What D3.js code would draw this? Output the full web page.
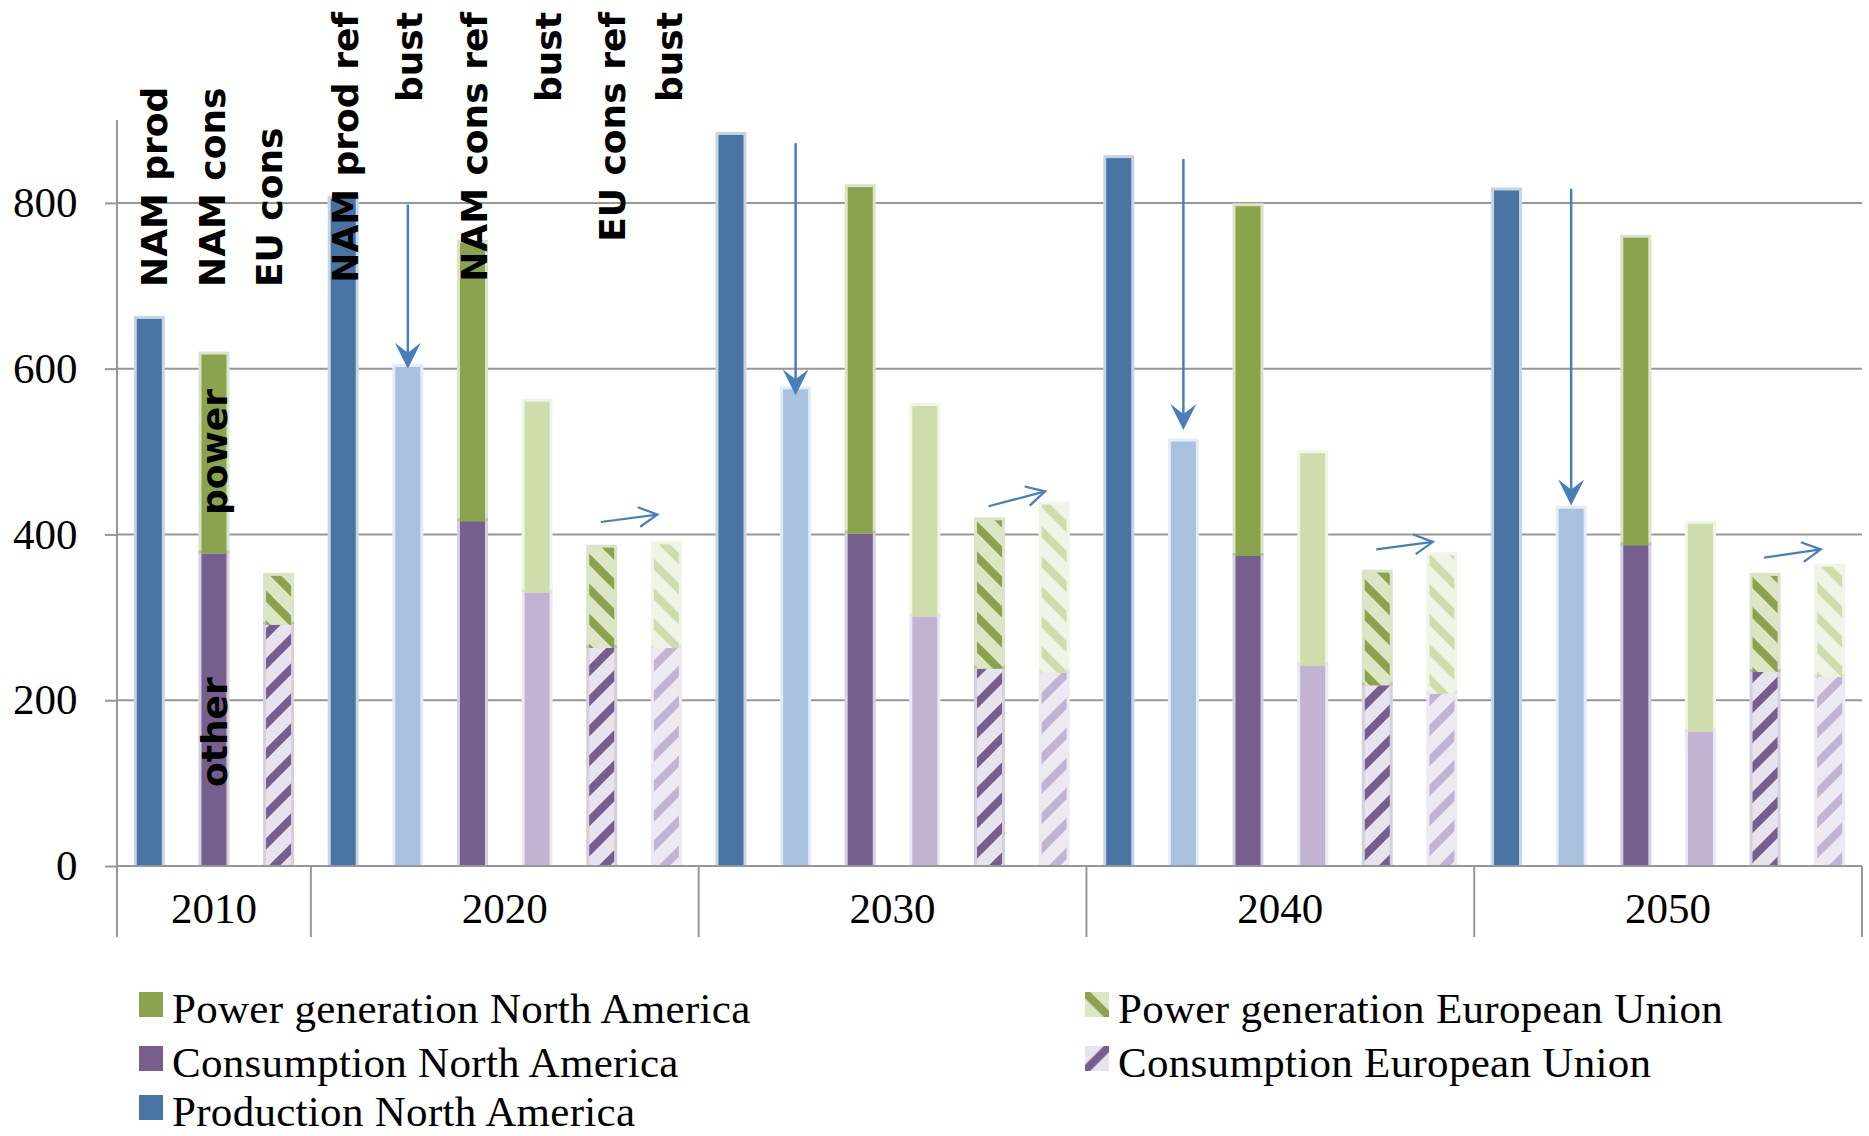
<!DOCTYPE html>
<html>
<head>
<meta charset="utf-8">
<script src="https://cdn.jsdelivr.net/npm/d3@7"></script>
<style>
  html, body { margin: 0; padding: 0; background: #ffffff; }
  svg { display: block; }
</style>
</head>
<body>
<svg id="chart" width="1869" height="1136"></svg>
<script>
// ---- data -------------------------------------------------------------
const years = ["2010", "2020", "2030", "2040", "2050"];
const subLabels2010 = ["NAM prod", "NAM cons", "EU cons"];
const subLabelsScenario = ["NAM prod ref", "bust", "NAM cons ref", "bust", "EU cons ref", "bust"];

// Production North America (2010, then reference / bust case per decade)
const productionBase = [660];
const productionRef  = [805, 882, 854, 815];
const productionBust = [602, 575, 512, 431];

// Consumption North America: other uses and power generation
const namOtherBase = [377];
const namPowerBase = [240];
const namOtherRef  = [416, 401, 374, 387];
const namPowerRef  = [336, 418, 422, 371];
const namOtherBust = [330, 301, 242, 162];
const namPowerBust = [230, 254, 256, 251];

// Consumption European Union: other uses and power generation
const euOtherBase = [291];
const euPowerBase = [59];
const euOtherRef  = [263, 238, 218, 234];
const euPowerRef  = [121, 179, 136, 116];
const euOtherBust = [263, 233, 208, 228];
const euPowerBust = [125, 203, 167, 133];

const yTicks = [0, 200, 400, 600, 800];

// Arrows: drop from reference to bust production, shift of EU consumption
const prodArrowFrom = [798, 872, 853, 817];
const prodArrowTo   = [600, 568, 526, 435];
const euArrowFrom   = [415, 434, 382, 372];
const euArrowTo     = [424, 452, 391, 382];

const legendLabels = [
  "Power generation North America",
  "Consumption North America",
  "Production North America",
  "Power generation European Union",
  "Consumption European Union"
];

// ---- layout -----------------------------------------------------------
const plotLeft = 117, plotRight = 1862, plotTop = 120, plotBottom = 866, catBottom = 937;
const barW = 25, halo = 3;
const gridColor = "#979797";
const arrowColor = "#4A7EBB";
const serif = "'Liberation Serif', 'Times New Roman', serif";
const boldSans = "'DejaVu Sans', Verdana, sans-serif";

const colors = {
  prod: "#4774A3", prodBust: "#A7C1DF",
  namOther: "#765F8E", namOtherBust: "#C2B3D3",
  namPower: "#8BA34C", namPowerBust: "#CFDDAC",
  euOther: "#765F8E", euOtherBust: "#C2B3D3",
  euPower: "#8BA34C", euPowerBust: "#CFDDAC"
};

const svg = d3.select("#chart");
const defs = svg.append("defs");

// diagonal hatch patterns
function hatch(id, bg, fg, dir, tx, ty) {
  const P = 30, w = 8;
  const p = defs.append("pattern")
    .attr("id", id)
    .attr("patternUnits", "userSpaceOnUse")
    .attr("width", P).attr("height", P);
  if (tx !== undefined) p.attr("patternTransform", `translate(${tx},${ty})`);
  p.append("rect").attr("width", P).attr("height", P).attr("fill", bg);
  const d = dir === "up"
    ? `M0,${P} L${P},0 M${-P/4},${P/4} L${P/4},${-P/4} M${3*P/4},${5*P/4} L${5*P/4},${3*P/4}`
    : `M0,0 L${P},${P} M${-P/4},${3*P/4} L${P/4},${5*P/4} M${3*P/4},${-P/4} L${5*P/4},${P/4}`;
  p.append("path").attr("d", d).attr("stroke", fg).attr("stroke-width", w).attr("fill", "none");
}
hatch("hEuOther", "#E9E3EF", colors.euOther, "up");
hatch("hEuOtherBust", "#EEEAF3", colors.euOtherBust, "up");
hatch("hEuPower", "#DCE6C5", colors.euPower, "down");
hatch("hEuPowerBust", "#F0F4E6", colors.euPowerBust, "down");

const fills = {
  prod: colors.prod, prodBust: colors.prodBust,
  namOther: colors.namOther, namOtherBust: colors.namOtherBust,
  namPower: colors.namPower, namPowerBust: colors.namPowerBust,
  euOther: "url(#hEuOther)", euOtherBust: "url(#hEuOtherBust)",
  euPower: "url(#hEuPower)", euPowerBust: "url(#hEuPowerBust)"
};

// ---- build one slot per bar --------------------------------------------
function stack(pairs) {
  let acc = 0;
  return pairs.map(([key, v]) => { const s = { key, y0: acc, y1: acc + v }; acc += v; return s; });
}
const slots = [];
years.forEach((yr, gi) => {
  if (gi === 0) {
    slots.push({ id: yr + "-0", year: yr, label: subLabels2010[0], segs: stack([["prod", productionBase[0]]]) });
    slots.push({ id: yr + "-1", year: yr, label: subLabels2010[1], segs: stack([["namOther", namOtherBase[0]], ["namPower", namPowerBase[0]]]) });
    slots.push({ id: yr + "-2", year: yr, label: subLabels2010[2], segs: stack([["euOther", euOtherBase[0]], ["euPower", euPowerBase[0]]]) });
  } else {
    const k = gi - 1;
    const content = [
      [["prod", productionRef[k]]],
      [["prodBust", productionBust[k]]],
      [["namOther", namOtherRef[k]], ["namPower", namPowerRef[k]]],
      [["namOtherBust", namOtherBust[k]], ["namPowerBust", namPowerBust[k]]],
      [["euOther", euOtherRef[k]], ["euPower", euPowerRef[k]]],
      [["euOtherBust", euOtherBust[k]], ["euPowerBust", euPowerBust[k]]]
    ];
    content.forEach((c, si) => slots.push({ id: yr + "-" + si, year: yr, label: subLabelsScenario[si], segs: stack(c) }));
  }
});

const x = d3.scaleBand().domain(slots.map(d => d.id)).range([plotLeft, plotRight]).padding(0);
const y = d3.scaleLinear().domain([0, 900]).range([plotBottom, plotTop]);
const cx = id => x(id) + x.bandwidth() / 2;

// ---- gridlines ----------------------------------------------------------
svg.append("g").selectAll("line")
  .data(yTicks.filter(t => t > 0))
  .join("line")
  .attr("x1", plotLeft).attr("x2", plotRight)
  .attr("y1", d => y(d)).attr("y2", d => y(d))
  .attr("stroke", gridColor).attr("stroke-width", 2);

// ---- bars -------------------------------------------------------------
const bars = svg.append("g");
slots.forEach(s => {
  const g = bars.append("g");
  const top = s.segs[s.segs.length - 1].y1;
  // pale rim around each column
  g.append("rect")
    .attr("x", cx(s.id) - barW / 2 - halo).attr("width", barW + 2 * halo)
    .attr("y", y(top) - halo).attr("height", y(0) - y(top) + halo)
    .attr("fill", "#ffffff");
  s.segs.forEach(sg => {
    g.append("rect")
      .attr("x", cx(s.id) - barW / 2 - halo).attr("width", barW + 2 * halo)
      .attr("y", y(sg.y1) - halo).attr("height", y(sg.y0) - y(sg.y1) + halo)
      .attr("fill", colors[sg.key]).attr("fill-opacity", 0.3);
    g.append("rect")
      .attr("x", cx(s.id) - barW / 2).attr("width", barW)
      .attr("y", y(sg.y1)).attr("height", y(sg.y0) - y(sg.y1))
      .attr("fill", fills[sg.key]);
  });
});

// ---- axes -------------------------------------------------------------
const yAxis = svg.append("g")
  .attr("transform", `translate(${plotLeft},0)`)
  .call(d3.axisLeft(y).tickValues(yTicks).tickSize(12).tickSizeOuter(0).tickPadding(27.5));
yAxis.select(".domain").remove();
yAxis.selectAll(".tick line").attr("stroke", gridColor).attr("stroke-width", 2);
yAxis.selectAll(".tick text")
  .attr("font-family", serif).attr("font-size", 43).attr("fill", "#000");

// vertical axis line, running down through the category band
svg.append("line")
  .attr("x1", plotLeft).attr("x2", plotLeft)
  .attr("y1", plotTop).attr("y2", catBottom)
  .attr("stroke", gridColor).attr("stroke-width", 2);
// horizontal axis line
svg.append("line")
  .attr("x1", plotLeft).attr("x2", plotRight)
  .attr("y1", y(0)).attr("y2", y(0))
  .attr("stroke", gridColor).attr("stroke-width", 2);

// year groups on the category axis
const groups = years.map(yr => {
  const ids = slots.filter(s => s.year === yr).map(s => s.id);
  return { year: yr, x0: x(ids[0]), x1: x(ids[ids.length - 1]) + x.bandwidth() };
});
svg.append("g").selectAll("line")
  .data(groups)
  .join("line")
  .attr("x1", d => d.x1).attr("x2", d => d.x1)
  .attr("y1", y(0)).attr("y2", catBottom)
  .attr("stroke", gridColor).attr("stroke-width", 2);
svg.append("g").selectAll("text")
  .data(groups)
  .join("text")
  .attr("x", d => (d.x0 + d.x1) / 2).attr("y", 923)
  .attr("text-anchor", "middle")
  .attr("font-family", serif).attr("font-size", 43).attr("fill", "#000")
  .text(d => d.year);

// ---- arrows -------------------------------------------------------------
const arrows = svg.append("g");
years.slice(1).forEach((yr, k) => {
  // production: reference down to bust
  const ax = cx(yr + "-1");
  const tipY = y(prodArrowTo[k]);
  arrows.append("line")
    .attr("x1", ax).attr("x2", ax)
    .attr("y1", y(prodArrowFrom[k])).attr("y2", tipY - 14)
    .attr("stroke", arrowColor).attr("stroke-width", 2.5);
  arrows.append("path")
    .attr("d", `M${ax},${tipY} L${ax - 13},${tipY - 26} L${ax},${tipY - 16} L${ax + 13},${tipY - 26} Z`)
    .attr("fill", arrowColor);

  // EU consumption: reference to bust
  const x1 = cx(yr + "-4") - 1, y1 = y(euArrowFrom[k]);
  const x2 = cx(yr + "-5") - 9, y2 = y(euArrowTo[k]);
  const th = Math.atan2(y2 - y1, x2 - x1);
  const L = 21, a = 28 * Math.PI / 180;
  arrows.append("line")
    .attr("x1", x1).attr("y1", y1).attr("x2", x2).attr("y2", y2)
    .attr("stroke", arrowColor).attr("stroke-width", 2.2);
  arrows.append("path")
    .attr("d", `M${x2 + L * Math.cos(th + Math.PI - a)},${y2 + L * Math.sin(th + Math.PI - a)} L${x2},${y2} L${x2 + L * Math.cos(th + Math.PI + a)},${y2 + L * Math.sin(th + Math.PI + a)}`)
    .attr("fill", "none").attr("stroke", arrowColor).attr("stroke-width", 2.2);
});

// ---- column notes -------------------------------------------------------
const notes = [
  { text: subLabels2010[0], slot: "2010-0", dx: 18, y: 287, anchor: "start" },
  { text: subLabels2010[1], slot: "2010-1", dx: 11, y: 287, anchor: "start" },
  { text: subLabels2010[2], slot: "2010-2", dx: 3.5, y: 287, anchor: "start" },
  { text: "power", slot: "2010-1", dx: 13, y: 515, anchor: "start" },
  { text: "other", slot: "2010-1", dx: 13, y: 787, anchor: "start" },
  { text: subLabelsScenario[0], slot: "2020-0", dx: 15, y: 12, anchor: "end" },
  { text: subLabelsScenario[1], slot: "2020-1", dx: 14, y: 12, anchor: "end" },
  { text: subLabelsScenario[2], slot: "2020-2", dx: 15, y: 12, anchor: "end" },
  { text: subLabelsScenario[3], slot: "2020-3", dx: 24, y: 12, anchor: "end" },
  { text: subLabelsScenario[4], slot: "2020-4", dx: 23, y: 12, anchor: "end" },
  { text: subLabelsScenario[5], slot: "2020-5", dx: 16, y: 12, anchor: "end" }
];
svg.append("g").selectAll("text")
  .data(notes)
  .join("text")
  .attr("transform", d => `translate(${cx(d.slot) + d.dx},${d.y}) rotate(-90)`)
  .attr("text-anchor", d => d.anchor)
  .attr("font-family", boldSans).attr("font-weight", "bold").attr("font-size", 36)
  .attr("fill", "#000")
  .text(d => d.text);

// ---- legend -------------------------------------------------------------
const legendRows = [1023, 1077, 1126];
const legendItems = [
  { label: legendLabels[0], key: "namPower", col: 0, row: 0 },
  { label: legendLabels[1], key: "namOther", col: 0, row: 1 },
  { label: legendLabels[2], key: "prod", col: 0, row: 2 },
  { label: legendLabels[3], key: "euPower", col: 1, row: 0 },
  { label: legendLabels[4], key: "euOther", col: 1, row: 1 }
];
const legendCols = [{ sw: 139, tx: 172 }, { sw: 1085, tx: 1118 }];
const lg = svg.append("g");
legendItems.forEach((it, i) => {
  const sx = legendCols[it.col].sw, sy = legendRows[it.row] - 31;
  let fill = colors[it.key];
  if (it.key === "euPower") {
    hatch("lgHatch" + i, "#DCE6C5", colors.euPower, "down", sx, sy + 0.5);
    fill = `url(#lgHatch${i})`;
  } else if (it.key === "euOther") {
    hatch("lgHatch" + i, "#E9E3EF", colors.euOther, "up", sx, sy - 5.5);
    fill = `url(#lgHatch${i})`;
  }
  lg.append("rect").attr("x", sx).attr("y", sy).attr("width", 24).attr("height", 25).attr("fill", fill);
  lg.append("text")
    .attr("x", legendCols[it.col].tx).attr("y", legendRows[it.row])
    .attr("font-family", serif).attr("font-size", 43).attr("letter-spacing", 0.3)
    .attr("fill", "#000")
    .text(it.label);
});
</script>
</body>
</html>
